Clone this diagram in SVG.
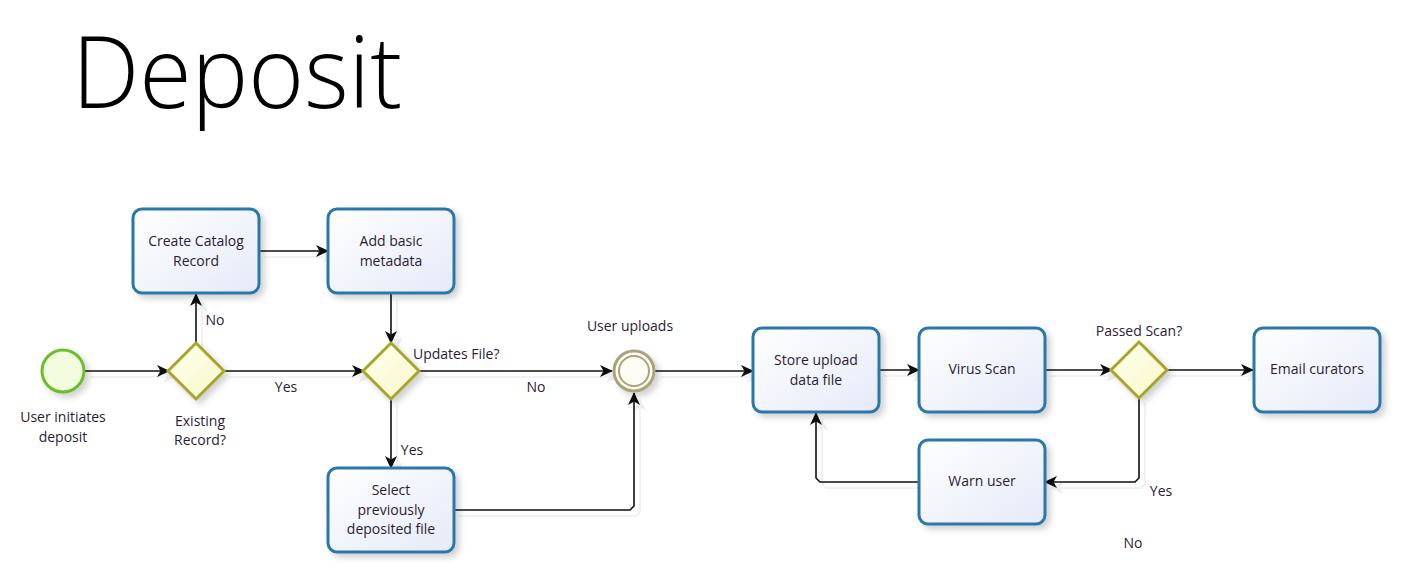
<svg xmlns="http://www.w3.org/2000/svg" width="1413" height="578" viewBox="0 0 1413 578">
<defs>
<style>
text{font-family:"Open Sans","Noto Sans","Liberation Sans",sans-serif;font-size:14px;fill:#2b1d33}
.lbl{text-anchor:middle}
.task{fill:url(#tg);stroke:#2b77aa;stroke-width:3;filter:url(#sh)}
.gw{fill:url(#gg);stroke:#a8a62c;stroke-width:3;filter:url(#sh)}
.conn{fill:none;stroke:#111;stroke-width:1.6;marker-end:url(#ah)}
</style>
<linearGradient id="tg" x1="0" y1="0" x2="1" y2="1"><stop offset="0" stop-color="#ffffff"/><stop offset="1" stop-color="#e6eaf8"/></linearGradient>
<linearGradient id="gg" x1="0" y1="0" x2="1" y2="1"><stop offset="0" stop-color="#ffffee"/><stop offset="1" stop-color="#f8f8cc"/></linearGradient>
<filter id="sh" x="-20%" y="-20%" width="150%" height="150%"><feDropShadow dx="4" dy="4" stdDeviation="3" flood-color="#000" flood-opacity="0.18"/></filter>
<filter id="lsh" x="-5%" y="-5%" width="120%" height="120%"><feDropShadow dx="6" dy="6" stdDeviation="0.6" flood-color="#000" flood-opacity="0.07"/></filter>
<marker id="ah" viewBox="0 0 13 12" refX="12" refY="6" markerWidth="13" markerHeight="12" markerUnits="userSpaceOnUse" orient="auto"><path d="M0,0 L13,6 L0,12 L3.5,6 z" fill="#111"/></marker>
</defs>
<rect width="1413" height="578" fill="#fff"/>
<text x="72" y="108" style="font-size:100px;font-weight:300;fill:#000" textLength="330" lengthAdjust="spacingAndGlyphs">Deposit</text>

<g id="connectors" filter="url(#lsh)">
<path class="conn" d="M84,371 L169,371"/>
<path class="conn" d="M196,343 L196,294"/>
<path class="conn" d="M223,371 L364,371"/>
<path class="conn" d="M258,251 L328,251"/>
<path class="conn" d="M391,293 L391,343"/>
<path class="conn" d="M418,371 L612,371"/>
<path class="conn" d="M391,399 L391,468"/>
<path class="conn" d="M453,510 L630,510 L634,506 L634,393"/>
<path class="conn" d="M655,371 L753,371"/>
<path class="conn" d="M878,370 L919,370"/>
<path class="conn" d="M1044,370 L1112,370"/>
<path class="conn" d="M1166,370 L1253,370"/>
<path class="conn" d="M1139,397 L1139,478 L1135,482 L1045,482"/>
<path class="conn" d="M919,482 L820,482 L816,478 L816,413"/>
</g>

<g id="start">
<circle cx="63" cy="371" r="21" fill="#f2fcdc" stroke="#6cbd2b" stroke-width="3" filter="url(#sh)"/>
<text class="lbl" x="63" y="422">User initiates</text>
<text class="lbl" x="63" y="442">deposit</text>
</g>
<g id="gw-existing">
<polygon class="gw" points="196,343 224,371 196,399 168,371"/>
<text class="lbl" x="200" y="426">Existing</text>
<text class="lbl" x="200" y="445">Record?</text>
</g>
<g id="create-record">
<rect class="task" x="133" y="209" width="126" height="84" rx="9"/>
<text class="lbl" x="196" y="246">Create Catalog</text>
<text class="lbl" x="196" y="266">Record</text>
</g>
<g id="add-metadata">
<rect class="task" x="328" y="209" width="126" height="84" rx="9"/>
<text class="lbl" x="391" y="246">Add basic</text>
<text class="lbl" x="391" y="266">metadata</text>
</g>
<g id="gw-updates">
<polygon class="gw" points="391,343 419,371 391,399 363,371"/>
<text x="413" y="359">Updates File?</text>
</g>
<g id="select-file">
<rect class="task" x="328" y="468" width="126" height="84" rx="9"/>
<text class="lbl" x="391" y="495">Select</text>
<text class="lbl" x="391" y="515">previously</text>
<text class="lbl" x="391" y="534">deposited file</text>
</g>
<g id="user-uploads">
<circle cx="634" cy="371" r="20" fill="#fdfdf6" stroke="#a8a47a" stroke-width="3" filter="url(#sh)"/>
<circle cx="634" cy="371" r="15" fill="none" stroke="#a8a47a" stroke-width="2"/>
<text class="lbl" x="630" y="331">User uploads</text>
</g>
<g id="store-file">
<rect class="task" x="753" y="328" width="126" height="84" rx="9"/>
<text class="lbl" x="816" y="365">Store upload</text>
<text class="lbl" x="816" y="385">data file</text>
</g>
<g id="virus-scan">
<rect class="task" x="919" y="328" width="126" height="84" rx="9"/>
<text class="lbl" x="982" y="374">Virus Scan</text>
</g>
<g id="gw-passed">
<polygon class="gw" points="1139,342 1167,370 1139,398 1111,370"/>
<text class="lbl" x="1139" y="336">Passed Scan?</text>
</g>
<g id="email-curators">
<rect class="task" x="1254" y="328" width="126" height="84" rx="9"/>
<text class="lbl" x="1317" y="374">Email curators</text>
</g>
<g id="warn-user">
<rect class="task" x="919" y="440" width="126" height="84" rx="9"/>
<text class="lbl" x="982" y="486">Warn user</text>
</g>
<g id="labels">
<text class="lbl" x="215" y="325">No</text>
<text class="lbl" x="286" y="392">Yes</text>
<text class="lbl" x="412" y="455">Yes</text>
<text class="lbl" x="536" y="392">No</text>
<text class="lbl" x="1161" y="496">Yes</text>
<text class="lbl" x="1133" y="548">No</text>
</g>
</svg>
